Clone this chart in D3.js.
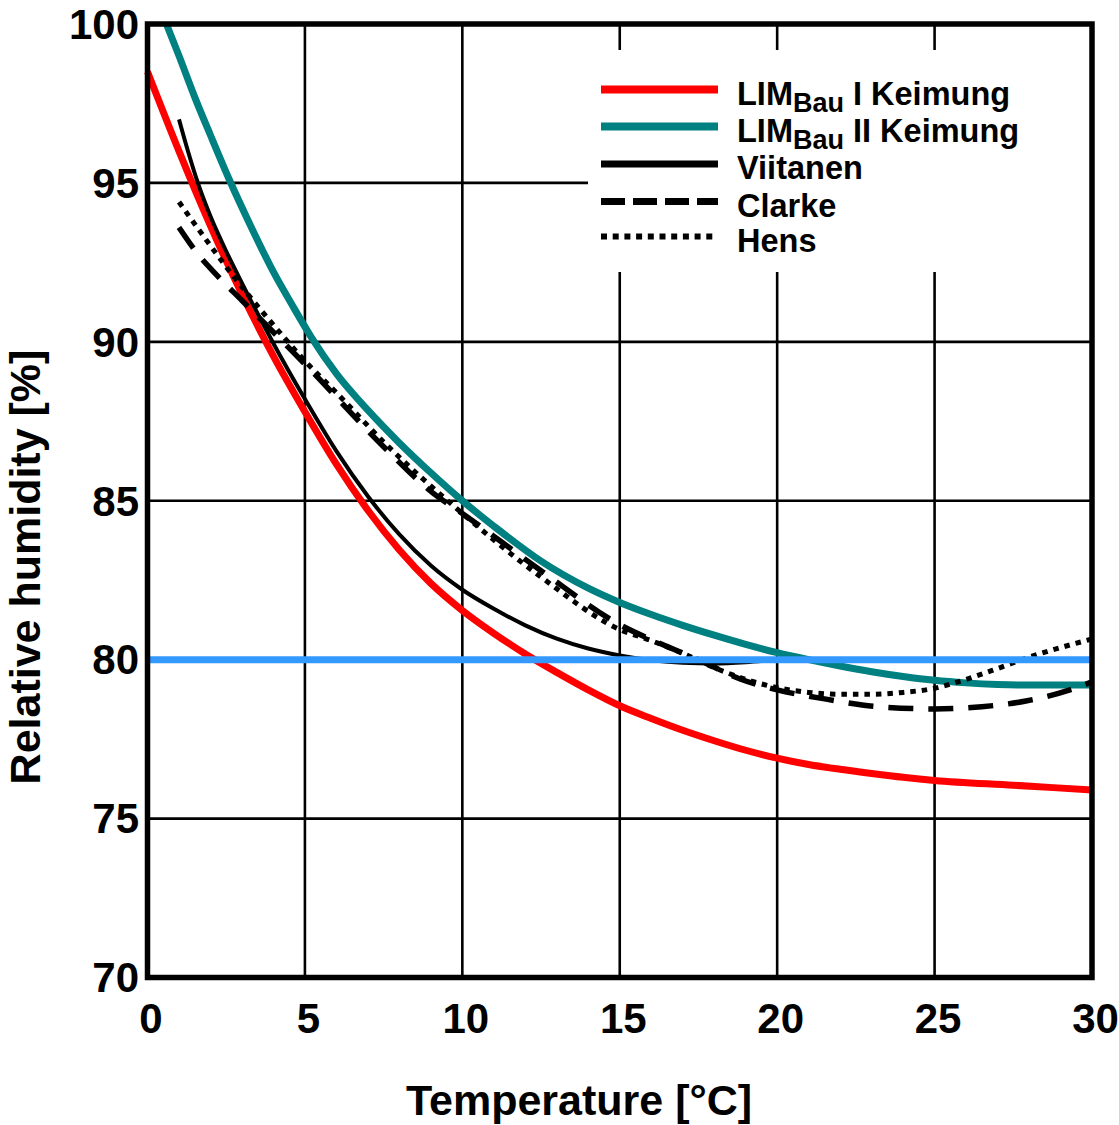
<!DOCTYPE html>
<html>
<head>
<meta charset="utf-8">
<script src="https://cdn.jsdelivr.net/npm/d3@7/dist/d3.min.js"></script>
<style>
  html, body { margin: 0; padding: 0; background: #fff; }
  svg { display: block; }
  text { font-family: "Liberation Sans", Arial, Helvetica, sans-serif; font-weight: bold; fill: #000; }
</style>
</head>
<body>
<svg id="chart" width="1119" height="1125"></svg>
<script>
// Temperature ticks and humidity ticks
const xTicks = [0, 5, 10, 15, 20, 25, 30];
const yTicks = [70, 75, 80, 85, 90, 95, 100];

// LIM Bau I Keimung (germination isopleth, substrate class I)
const limIT  = [0, 1, 2, 3, 4, 5, 6, 7, 8, 9, 10, 11, 12, 13, 14, 15, 16, 17, 18, 19, 20, 21, 22, 23, 24, 25, 27.5, 30];
const limIRH = [98.5, 96.0, 93.65, 91.5, 89.55, 87.8, 86.15, 84.7, 83.45, 82.4, 81.55, 80.83, 80.18, 79.6, 79.05, 78.55, 78.15, 77.78, 77.45, 77.15, 76.9, 76.7, 76.55, 76.42, 76.3, 76.2, 76.05, 75.9];

// LIM Bau II Keimung (substrate class II)
const limIIT  = [0.6, 1, 1.5, 2, 2.6, 3.3, 4, 4.6, 5.2, 6, 7, 8, 9, 10, 11, 12.5, 14, 15, 16, 17, 18, 19, 20, 21, 22, 23, 24, 25, 26, 27, 28, 30];
const limIIRH = [100, 99.0, 97.7, 96.5, 95.1, 93.6, 92.2, 91.15, 90.15, 89.0, 87.85, 86.82, 85.88, 85.0, 84.2, 83.1, 82.25, 81.8, 81.42, 81.08, 80.77, 80.48, 80.22, 80.0, 79.8, 79.62, 79.47, 79.35, 79.27, 79.22, 79.2, 79.2];

// Viitanen
const viitT  = [1.0, 1.3, 1.6, 2, 2.5, 3, 4, 5, 6, 7, 8, 9, 10, 11, 12, 13, 14, 15, 16, 17, 18, 19, 20];
const viitRH = [97.0, 95.95, 95.0, 93.95, 92.85, 91.85, 89.95, 88.2, 86.56, 85.14, 83.94, 82.96, 82.2, 81.6, 81.08, 80.66, 80.35, 80.13, 79.98, 79.9, 79.88, 79.92, 80.0];

// Clarke
const clarkeT  = [1.0, 1.65, 2.2, 3, 4, 5, 7.5, 9.07, 10, 12.5, 15, 16.3, 17.5, 18.8, 20, 21.6, 23.1, 25, 26.5, 27.9, 29.3, 30];
const clarkeRH = [93.6, 92.7, 92.1, 91.3, 90.3, 89.3, 86.7, 85.24, 84.6, 82.8, 81.1, 80.5, 80.0, 79.4, 79.05, 78.75, 78.53, 78.45, 78.52, 78.7, 79.05, 79.3];

// Hens
const hensT  = [1.0, 1.65, 2.7, 3.77, 5, 6, 7.5, 10, 12.5, 15, 16, 17, 18, 19, 20, 21, 22, 23, 24, 25, 26, 27, 28, 29, 30];
const hensRH = [94.4, 93.5, 92.1, 90.8, 89.4, 88.4, 86.85, 84.6, 82.6, 80.95, 80.6, 80.2, 79.75, 79.38, 79.12, 78.97, 78.91, 78.91, 78.97, 79.1, 79.38, 79.72, 80.08, 80.38, 80.65];

// 80 % reference line
const refT  = [0, 30];
const refRH = [80, 80];

const legendLabels = [
  { main: "LIM", sub: "Bau", rest: " I Keimung" },
  { main: "LIM", sub: "Bau", rest: " II Keimung" },
  { main: "Viitanen" },
  { main: "Clarke" },
  { main: "Hens" }
];

const svg = d3.select("#chart");
const x = d3.scaleLinear().domain([0, 30]).range([147.5, 1092]);
const y = d3.scaleLinear().domain([70, 100]).range([977.5, 24]);

const zip = (xs, ys) => xs.map((v, i) => [v, ys[i]]);
const line = d3.line().x(d => x(d[0])).y(d => y(d[1])).curve(d3.curveMonotoneX);

// grid
const grid = svg.append("g").attr("stroke", "#000").attr("stroke-width", 2.6);
grid.selectAll("line.v").data(xTicks.slice(1, -1)).join("line")
  .attr("x1", d => x(d)).attr("x2", d => x(d))
  .attr("y1", y(100)).attr("y2", y(70));
grid.selectAll("line.h").data(yTicks.slice(1, -1)).join("line")
  .attr("x1", x(0)).attr("x2", x(30))
  .attr("y1", d => y(d)).attr("y2", d => y(d));

// white panel behind the legend
svg.append("rect")
  .attr("x", 588).attr("y", 50)
  .attr("width", x(30) - 588).attr("height", 222)
  .attr("fill", "#fff");

// axis labels
const xAxis = svg.append("g")
  .attr("transform", `translate(3,${y(70)})`)
  .call(d3.axisBottom(x).tickValues(xTicks).tickSize(0).tickPadding(26).tickFormat(d3.format("d")));
xAxis.select(".domain").remove();
xAxis.selectAll("text").attr("font-size", 42).attr("fill", "#000");

const yAxis = svg.append("g")
  .attr("transform", `translate(${x(0)},0)`)
  .call(d3.axisLeft(y).tickValues(yTicks).tickSize(0).tickPadding(8.5).tickFormat(d3.format("d")));
yAxis.select(".domain").remove();
yAxis.selectAll("text").attr("font-size", 42).attr("fill", "#000").attr("dy", "0.34em");

// axis titles
svg.append("text")
  .attr("x", 579).attr("y", 1115)
  .attr("text-anchor", "middle").attr("font-size", 43)
  .text("Temperature [°C]");
svg.append("text")
  .attr("transform", "translate(40,567) rotate(-90)")
  .attr("text-anchor", "middle").attr("font-size", 43)
  .text("Relative humidity [%]");

// curves
const series = [
  { t: limIT,   rh: limIRH,   stroke: "#ff0000", width: 7,   dash: null },
  { t: limIIT,  rh: limIIRH,  stroke: "#008080", width: 7,   dash: null },
  { t: viitT,   rh: viitRH,   stroke: "#000000", width: 4,   dash: null },
  { t: clarkeT, rh: clarkeRH, stroke: "#000000", width: 5.5, dash: "25,15" },
  { t: hensT,   rh: hensRH,   stroke: "#000000", width: 5,   dash: "5.5,6" }
];
const plot = svg.append("g");
plot.selectAll("path.series").data(series).join("path")
  .attr("class", "series")
  .attr("fill", "none")
  .attr("stroke", d => d.stroke)
  .attr("stroke-width", d => d.width)
  .attr("stroke-dasharray", d => d.dash)
  .attr("d", d => line(zip(d.t, d.rh)));

// 80 % line
plot.append("path")
  .attr("fill", "none")
  .attr("stroke", "#3399ff")
  .attr("stroke-width", 7)
  .attr("d", d3.line().x(d => x(d[0])).y(d => y(d[1]))(zip(refT, refRH)));

// frame
svg.append("rect")
  .attr("x", x(0)).attr("y", y(100))
  .attr("width", x(30) - x(0)).attr("height", y(70) - y(100))
  .attr("fill", "none").attr("stroke", "#000").attr("stroke-width", 5.5);

// legend
const legendStyles = [
  { stroke: "#ff0000", width: 8, dash: null },
  { stroke: "#008080", width: 8, dash: null },
  { stroke: "#000000", width: 7, dash: null },
  { stroke: "#000000", width: 7, dash: "24,8" },
  { stroke: "#000000", width: 6, dash: "6,5.7" }
];
const rowY = [89.5, 126.5, 164, 201.5, 236.5];
const legend = svg.append("g");
legendLabels.forEach((lab, i) => {
  const st = legendStyles[i];
  legend.append("line")
    .attr("x1", 601).attr("x2", 718)
    .attr("y1", rowY[i]).attr("y2", rowY[i])
    .attr("stroke", st.stroke).attr("stroke-width", st.width)
    .attr("stroke-dasharray", st.dash);
  const t = legend.append("text")
    .attr("x", 737).attr("y", rowY[i] + 15)
    .attr("font-size", 32.5);
  t.append("tspan").text(lab.main);
  if (lab.sub) {
    t.append("tspan").attr("dy", 7).attr("font-size", 27).text(lab.sub);
    t.append("tspan").attr("dy", -7).text(lab.rest);
  }
});
</script>
</body>
</html>
